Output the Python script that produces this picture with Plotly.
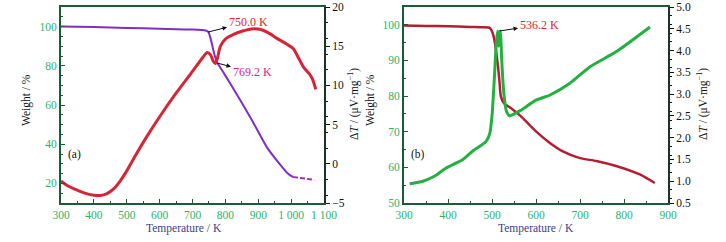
import plotly.graph_objects as go

# ---------------- Panel (a) data ----------------
a_wt_T = [300, 400, 500, 600, 700, 740, 748, 755, 762, 768, 774, 780, 800, 840, 880, 926, 966, 990, 1000, 1006]
a_wt = [100, 99.8, 99.3, 98.9, 98.5, 98.0, 97.3, 94, 89, 85, 82, 80.3, 75, 64, 52.5, 38.5, 29.7, 25.0, 23.8, 23.3]
a_wt_tail_T = [1006, 1030, 1050, 1070]
a_wt_tail = [23.3, 22.6, 22.2, 21.8]

a_dta_T = [300, 320, 340, 370, 400, 420, 440, 460, 480, 500, 530, 560, 600, 650, 700, 730, 745,
           755, 763, 770, 776, 785, 800, 825, 850, 880, 910, 935, 957, 985, 1006, 1025, 1040, 1055, 1065, 1075]
a_dta = [-2.2, -2.8, -3.2, -3.7, -4.0, -4.05, -3.8, -3.2, -2.2, -0.9, 1.3, 3.4, 6.0, 9.0, 11.8, 13.5, 14.2,
         13.9, 13.1, 12.8, 13.5, 15.0, 15.9, 16.5, 16.9, 17.2, 17.1, 16.6, 16.0, 15.3, 14.7, 13.3, 12.2, 11.5, 10.8, 9.5]

# ---------------- Panel (b) data ----------------
b_wt_T = [300, 350, 400, 450, 480, 495, 502, 507, 511, 514, 517, 520, 527, 541, 564, 600, 630, 661, 700, 737, 782, 836, 870]
b_wt = [99.8, 99.7, 99.6, 99.4, 99.3, 99.1, 97.5, 94.7, 91, 88, 84, 80, 78, 76.8, 74.5, 70.1, 67, 64.5, 62.6, 61.8, 60.4, 58, 55.6]

b_dta_T = [313, 343, 370, 395, 434, 457, 475, 487, 495, 500, 505, 510, 513, 515, 517, 519, 522, 527, 533, 540,
           545, 564, 600, 632, 677, 723, 782, 859]
b_dta = [0.94, 1.0, 1.12, 1.3, 1.5, 1.7, 1.82, 1.92, 2.1, 2.5, 3.3, 4.2, 4.45, 4.1, 4.4, 4.45, 3.8, 3.0, 2.6, 2.5,
         2.52, 2.62, 2.86, 2.98, 3.25, 3.63, 3.97, 4.54]

# ticks
a_xticks = [300, 400, 500, 600, 700, 800, 900, 1000, 1100]
a_xticktext = ["300", "400", "500", "600", "700", "800", "900", "1 000", "1 100"]
a_yticks = [20, 40, 60, 80, 100]
a_y2ticks = [-5, 0, 5, 10, 15, 20]
b_xticks = [300, 400, 500, 600, 700, 800, 900]
b_yticks = [50, 60, 70, 80, 90, 100]
b_y2ticks = [0.5, 1.0, 1.5, 2.0, 2.5, 3.0, 3.5, 4.0, 4.5, 5.0]

W, H = 726, 242
FONT = "Liberation Serif"
GREEN_TXT = "#2bb36a"
FRAME = "#1d5a36"
TITLE_BLUE = "#3c3c8c"

fig = go.Figure()

# panel (a)
fig.add_trace(go.Scatter(x=a_dta_T, y=a_dta, xaxis="x", yaxis="y2", mode="lines",
                         line=dict(color="#d42638", width=3, shape="spline", smoothing=0.8), showlegend=False))
fig.add_trace(go.Scatter(x=a_wt_T, y=a_wt, xaxis="x", yaxis="y", mode="lines",
                         line=dict(color="#7e2fc4", width=2, shape="spline", smoothing=0.5), showlegend=False))
fig.add_trace(go.Scatter(x=a_wt_tail_T, y=a_wt_tail, xaxis="x", yaxis="y", mode="lines",
                         line=dict(color="#a02fb0", width=2, dash="5px,2px"), showlegend=False))

# panel (b)
fig.add_trace(go.Scatter(x=b_dta_T, y=b_dta, xaxis="x2", yaxis="y4", mode="lines",
                         line=dict(color="#22b041", width=3, shape="spline", smoothing=0.6), showlegend=False))
fig.add_trace(go.Scatter(x=b_wt_T, y=b_wt, xaxis="x2", yaxis="y3", mode="lines",
                         line=dict(color="#b41e32", width=2.5, shape="spline", smoothing=0.6), showlegend=False))

tickfont_g = dict(family=FONT, size=11.5, color=GREEN_TXT)
tickfont_k = dict(family=FONT, size=11.5, color="#111111")

dom_a = [61 / W, 324 / W]
dom_b = [404 / W, 668 / W]
dom_y = [1 - 203 / H, 1 - 7 / H]

common_x = dict(showline=True, linecolor=FRAME, linewidth=2, mirror=True, ticks="inside", ticklen=4,
                tickcolor=FRAME, tickfont=tickfont_g, showgrid=False, zeroline=False,
                minor=dict(ticks="inside", ticklen=2, tickcolor=FRAME))

fig.update_layout(
    width=W, height=H, margin=dict(l=0, r=0, t=0, b=0, autoexpand=False),
    paper_bgcolor="white", plot_bgcolor="white",
    xaxis=dict(domain=dom_a, range=[300, 1100], tickvals=a_xticks, ticktext=a_xticktext, anchor="y", **common_x),
    yaxis=dict(domain=dom_y, range=[10, 110], tickvals=a_yticks, anchor="x", showline=True, linecolor=FRAME,
               linewidth=2, ticks="inside", ticklen=4, tickcolor=FRAME, tickfont=tickfont_g, showgrid=False,
               zeroline=False, minor=dict(ticks="inside", ticklen=2, tickcolor=FRAME)),
    yaxis2=dict(domain=dom_y, range=[-5, 20], tickvals=a_y2ticks, overlaying="y", side="right", anchor="x",
                showline=True, linecolor="#1a3326", linewidth=2, ticks="outside", ticklen=4, tickcolor="#111",
                tickfont=tickfont_k, showgrid=False, zeroline=False,
                minor=dict(ticks="outside", ticklen=2, tickcolor="#111")),
    xaxis2=dict(domain=dom_b, range=[300, 900], tickvals=b_xticks, anchor="y3", **common_x),
    yaxis3=dict(domain=dom_y, range=[50, 105], tickvals=b_yticks, anchor="x2", showline=True, linecolor=FRAME,
                linewidth=2, ticks="inside", ticklen=4, tickcolor=FRAME, tickfont=tickfont_g, showgrid=False,
                zeroline=False, minor=dict(ticks="inside", ticklen=2, tickcolor=FRAME)),
    yaxis4=dict(domain=dom_y, range=[0.5, 5.0], tickvals=b_y2ticks, ticktext=[f"{v:.1f}" for v in b_y2ticks],
                overlaying="y3", side="right", anchor="x2",
                showline=True, linecolor="#1a3326", linewidth=2, ticks="outside", ticklen=4, tickcolor="#111",
                tickfont=tickfont_k, showgrid=False, zeroline=False,
                minor=dict(ticks="outside", ticklen=2, tickcolor="#111")),
)

ann = []
def ptext(x, y, text, color="#111", size=11.5, angle=0):
    ann.append(dict(x=x / W, y=1 - y / H, xref="paper", yref="paper", text=text, showarrow=False,
                    font=dict(family=FONT, size=size, color=color), textangle=angle,
                    xanchor="center", yanchor="middle"))

# axis titles
ptext(184, 228, "Temperature / K", TITLE_BLUE)
ptext(536, 228, "Temperature / K", TITLE_BLUE)
ptext(27, 100, "Weight / %", angle=-90)
ptext(371, 100, "Weight / %", angle=-90)
ptext(353, 104, "Δ<i>T</i> / (μV·mg<sup>−1</sup>)", angle=-90)
ptext(702, 104, "Δ<i>T</i> / (μV·mg<sup>−1</sup>)", angle=-90)
ptext(74, 154, "(a)")
ptext(418, 154, "(b)")

# peak labels with arrows pointing towards the label (head at the text side)
def label(xp, yp, xt, yt, xr, yr, text, color):
    ann.append(dict(x=xp, y=yp, ax=xt, ay=yt, xref=xr, yref=yr, axref=xr, ayref=yr, text=text,
                    showarrow=True, arrowside="start", startarrowhead=2, startarrowsize=0.9,
                    arrowwidth=1, arrowcolor="#111", standoff=0, startstandoff=0,
                    font=dict(family=FONT, size=12, color=color)))

label(747, 97.2, 869, 102.3, "x", "y", "750.0 K", "#e8202a")
label(775, 81.4, 881, 76.8, "x", "y", "769.2 K", "#e0218a")
label(518, 4.45, 607, 4.59, "x2", "y4", "536.2 K", "#e8202a")

fig.update_layout(annotations=ann)
fig.write_html("out.html", config={"displayModeBar": False},
               post_script="document.body.style.margin='0';document.body.style.padding='0';")
